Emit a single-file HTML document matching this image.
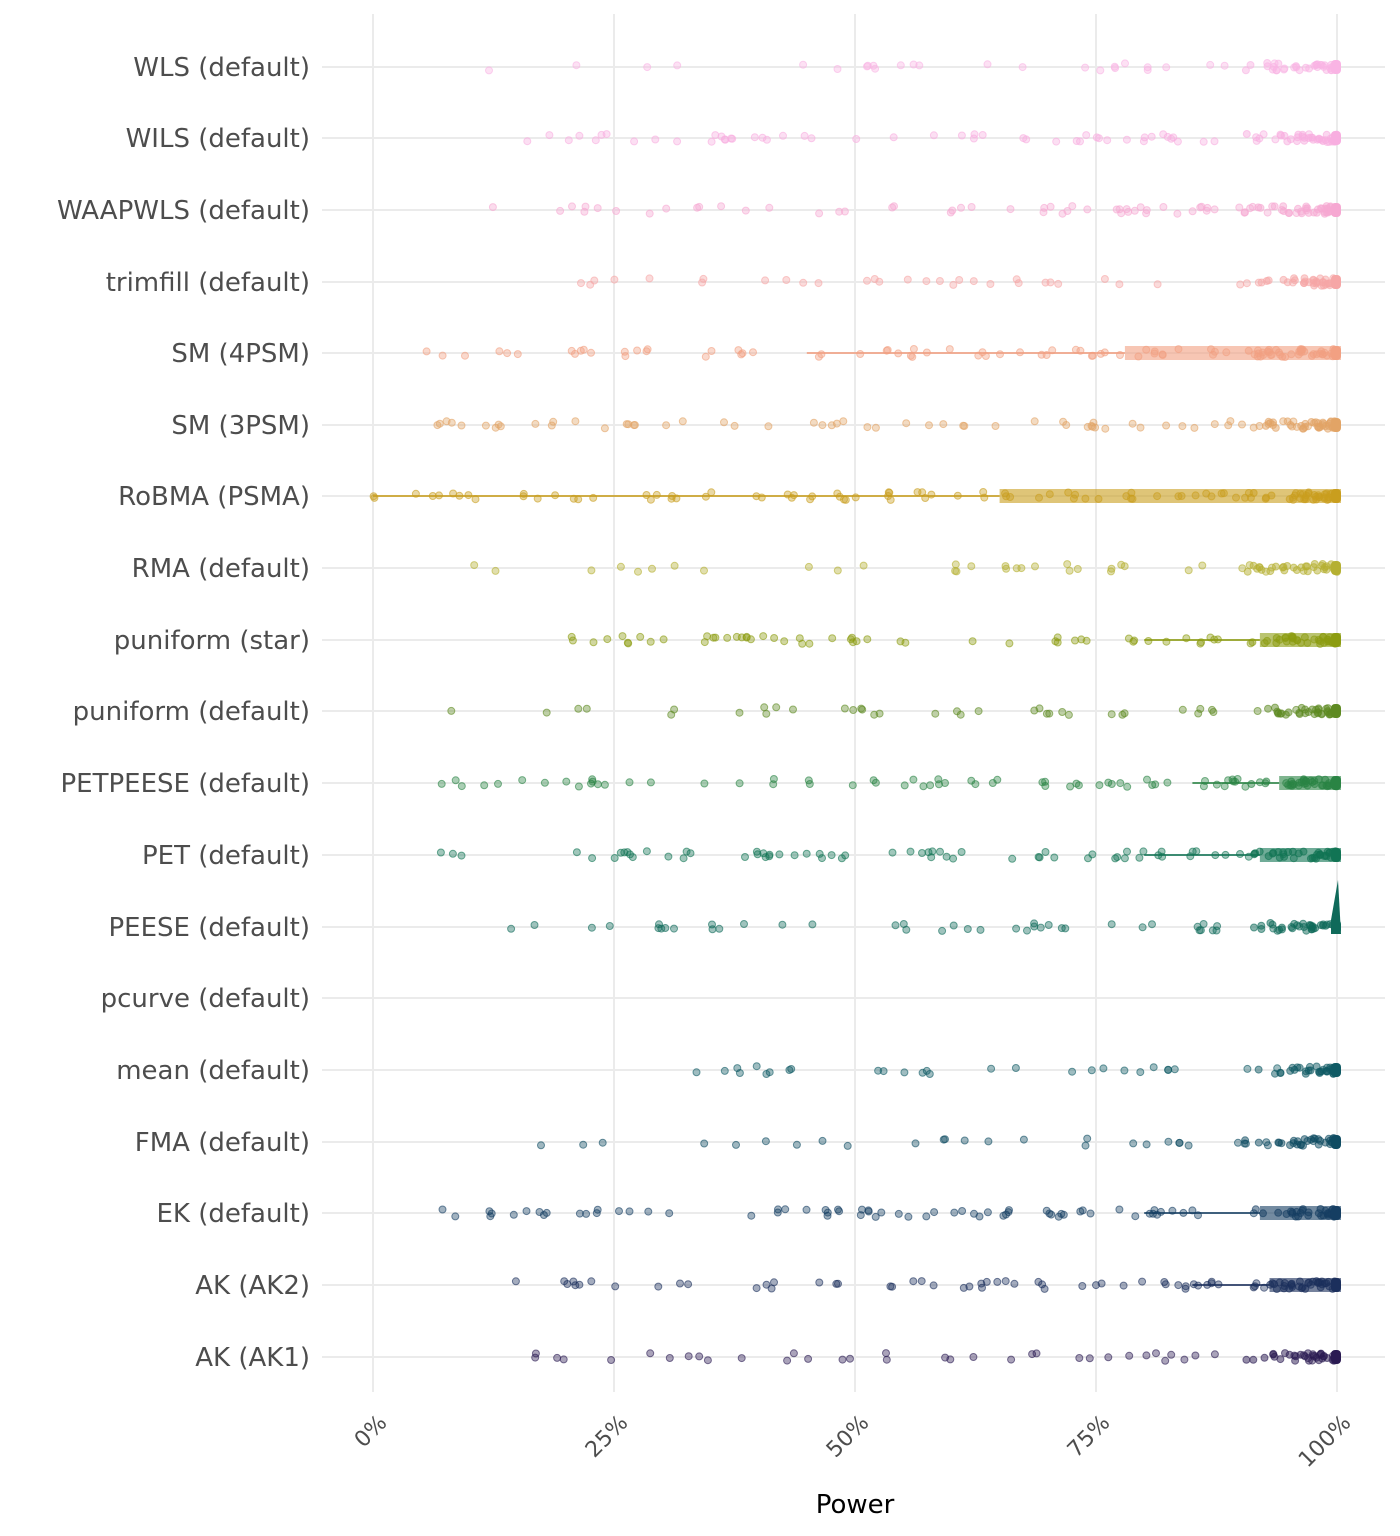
<!DOCTYPE html>
<html><head><meta charset="utf-8"><style>
body{margin:0;background:#fff}
svg{display:block}
text{font-family:"DejaVu Sans","Liberation Sans",sans-serif}
</style></head><body>
<svg id="s" width="1400" height="1536" viewBox="0 0 1400 1536" xmlns="http://www.w3.org/2000/svg">
<g stroke="#ebebeb" stroke-width="2">
<line x1="373" y1="14" x2="373" y2="1392"/><line x1="614" y1="14" x2="614" y2="1392"/><line x1="855" y1="14" x2="855" y2="1392"/><line x1="1096" y1="14" x2="1096" y2="1392"/><line x1="1337" y1="14" x2="1337" y2="1392"/>
</g>
<g id="rows"></g>
<g fill="#4d4d4d" font-size="26" text-anchor="end" id="labels"></g>
<g fill="#4d4d4d" font-size="22" text-anchor="end">
<text transform="translate(388,1424) rotate(-45)">0%</text>
<text transform="translate(629,1424) rotate(-45)">25%</text>
<text transform="translate(870,1424) rotate(-45)">50%</text>
<text transform="translate(1111,1424) rotate(-45)">75%</text>
<text transform="translate(1352,1424) rotate(-45)">100%</text>
</g>
<text x="855" y="1513" font-size="26" text-anchor="middle" fill="#000">Power</text>
</svg>
<script>
var rows=[
["WLS (default)",67,"#f9b4e4",30,0,0.12,0],
["WILS (default)",138,"#f8aee0",60,0,0.12,0],
["WAAPWLS (default)",210,"#f6a8d2",60,0,0.12,0],
["trimfill (default)",282,"#f6a6a6",35,0,0.08,0],
["SM (4PSM)",353,"#f2a082",70,0.78,0.04,0.45],
["SM (3PSM)",425,"#e2a466",65,0,0.06,0],
["RoBMA (PSMA)",496,"#c99e1e",80,0.65,0.0,0.0],
["RMA (default)",568,"#b5b032",35,0,0.08,0],
["puniform (star)",640,"#8c9c10",60,0.92,0.15,0.80],
["puniform (default)",711,"#5e8a22",40,0,0.08,0],
["PETPEESE (default)",783,"#2a8444",70,0.94,0.07,0.85],
["PET (default)",855,"#117454",70,0.92,0.05,0.80],
["PEESE (default)",927,"#0f6a5a",45,0,0.1,0],
["pcurve (default)",998,"#0f6060",0,0,0,0],
["mean (default)",1070,"#0f5a64",30,0,0.32,0],
["FMA (default)",1142,"#0f4c62",30,0,0.16,0],
["EK (default)",1213,"#153e62",70,0.92,0.05,0.80],
["AK (AK2)",1285,"#1b2f5c",60,0.93,0.07,0.85],
["AK (AK1)",1357,"#2a1a52",40,0,0.12,0]];
var seed=7;function r(){seed=(seed*16807)%2147483647;return seed/2147483647;}
var g=document.getElementById('rows'),L=document.getElementById('labels'),h='',lh='';
function X(p){return 373+964*p;}
rows.forEach(function(o){
 var y=o[1],c=o[2];
 lh+='<text x="310" y="'+(y+9)+'">'+o[0]+'</text>';
 h+='<line x1="322" y1="'+y+'" x2="1385" y2="'+y+'" stroke="#ebebeb" stroke-width="2"/>';
 if(!o[3])return;
 if(o[4]>0){h+='<rect x="'+X(o[4])+'" y="'+(y-7)+'" width="'+(1341-X(o[4]))+'" height="14" fill="'+c+'" opacity="0.6"/>';
  h+='<line x1="'+X(o[6])+'" y1="'+y+'" x2="'+X(o[4])+'" y2="'+y+'" stroke="'+c+'" stroke-width="2" opacity="0.8"/>';}
 for(var i=0;i<o[3];i++){var p=o[5]+(1-o[5])*Math.pow(r(),0.8);h+='<circle cx="'+X(p).toFixed(1)+'" cy="'+(y+(r()-0.5)*8).toFixed(1)+'" r="3.5" fill="'+c+'" fill-opacity="0.4" stroke="'+c+'" stroke-opacity="0.6"/>';}
 for(var i=0;i<30;i++){var p=0.9+0.1*Math.sqrt(r());h+='<circle cx="'+X(p).toFixed(1)+'" cy="'+(y+(r()-0.5)*8).toFixed(1)+'" r="3.5" fill="'+c+'" fill-opacity="0.5" stroke="'+c+'" stroke-opacity="0.6"/>';}
 h+='<rect x="1331" y="'+(y-7)+'" width="10" height="14" rx="4" fill="'+c+'"/>';
});
h+='<polygon points="1331,920 1338,880 1341,934 1331,934" fill="#0f6a5a"/>';
g.innerHTML=h;L.innerHTML=lh;
</script>
</body></html>
